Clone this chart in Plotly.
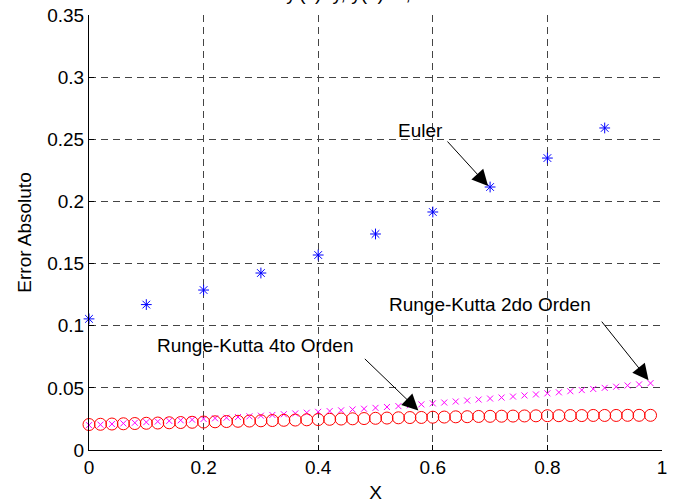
import plotly.graph_objects as go

# ---- data ----
euler_x = [0.0, 0.1, 0.2, 0.3, 0.4, 0.5, 0.6, 0.7, 0.8, 0.9]
euler_y = [0.1055, 0.1170, 0.1287, 0.1424, 0.1569, 0.1738, 0.1915, 0.2116, 0.2349, 0.2591]

rk_x = [0.00, 0.02, 0.04, 0.06, 0.08, 0.10, 0.12, 0.14, 0.16, 0.18,
        0.20, 0.22, 0.24, 0.26, 0.28, 0.30, 0.32, 0.34, 0.36, 0.38,
        0.40, 0.42, 0.44, 0.46, 0.48, 0.50, 0.52, 0.54, 0.56, 0.58,
        0.60, 0.62, 0.64, 0.66, 0.68, 0.70, 0.72, 0.74, 0.76, 0.78,
        0.80, 0.82, 0.84, 0.86, 0.88, 0.90, 0.92, 0.94, 0.96, 0.98]

rk2_y = [0.0200, 0.0204, 0.0209, 0.0214, 0.0219, 0.0224, 0.0229, 0.0234, 0.0239, 0.0244,
         0.0250, 0.0255, 0.0260, 0.0265, 0.0271, 0.0276, 0.0282, 0.0288, 0.0294, 0.0300,
         0.0307, 0.0313, 0.0319, 0.0326, 0.0332, 0.0339, 0.0346, 0.0353, 0.0360, 0.0367,
         0.0375, 0.0382, 0.0390, 0.0398, 0.0406, 0.0414, 0.0422, 0.0430, 0.0439, 0.0447,
         0.0456, 0.0464, 0.0473, 0.0482, 0.0491, 0.0500, 0.0509, 0.0519, 0.0528, 0.0538]

rk4_y = [0.0205, 0.0207, 0.0209, 0.0211, 0.0213, 0.0215, 0.0217, 0.0219, 0.0221, 0.0223,
         0.0225, 0.0227, 0.0229, 0.0231, 0.0233, 0.0235, 0.0237, 0.0239, 0.0241, 0.0243,
         0.0245, 0.0247, 0.0249, 0.0251, 0.0253, 0.0255, 0.0257, 0.0259, 0.0261, 0.0262,
         0.0264, 0.0265, 0.0267, 0.0268, 0.0270, 0.0271, 0.0272, 0.0273, 0.0274, 0.0275,
         0.0276, 0.0276, 0.0277, 0.0277, 0.0278, 0.0278, 0.0278, 0.0279, 0.0279, 0.0279]

title_text = "y'(x)=y, y(0)=1, h=0.1"
xlabel = "X"
ylabel = "Error Absoluto"
labels = {"euler": "Euler", "rk2": "Runge-Kutta 2do Orden", "rk4": "Runge-Kutta 4to Orden"}

FONT = "Liberation Sans, Arial, sans-serif"

fig = go.Figure()
fig.add_trace(go.Scatter(x=euler_x, y=euler_y, mode="markers",
                         marker=dict(symbol="asterisk-open", size=9, color="#0000FF",
                                     line=dict(color="#0000FF", width=1)),
                         cliponaxis=False))
fig.add_trace(go.Scatter(x=rk_x, y=rk2_y, mode="markers",
                         marker=dict(symbol="x-thin-open", size=6, color="#FF00FF",
                                     line=dict(color="#FF00FF", width=1)),
                         cliponaxis=False))
fig.add_trace(go.Scatter(x=rk_x, y=rk4_y, mode="markers",
                         marker=dict(symbol="circle-open", size=12, color="#FF0000",
                                     line=dict(color="#FF0000", width=1)),
                         cliponaxis=False))

grid = dict(showgrid=True, gridcolor="#444444", gridwidth=1, griddash="7px,5px",
            zeroline=False, showline=True, linecolor="black", linewidth=1,
            ticks="inside", ticklen=5, tickcolor="black", automargin=False,
            tickfont=dict(family=FONT, size=19, color="black"))

fig.update_xaxes(range=[0, 1], dtick=0.2, tick0=0,
                 title=dict(text=xlabel, font=dict(family=FONT, size=19, color="black"), standoff=8),
                 **grid)
fig.update_yaxes(range=[0, 0.35], dtick=0.05, tick0=0,
                 title=dict(text=ylabel, font=dict(family=FONT, size=19, color="black"), standoff=10),
                 **grid)

ann = []
# text labels
ann.append(dict(x=0.578, y=0.2567, xref="x", yref="y", text=labels["euler"], showarrow=False,
                font=dict(family=FONT, size=19, color="black")))
ann.append(dict(x=0.70, y=0.1167, xref="x", yref="y", text=labels["rk2"], showarrow=False,
                font=dict(family=FONT, size=19, color="black")))
ann.append(dict(x=0.29, y=0.0837, xref="x", yref="y", text=labels["rk4"], showarrow=False,
                font=dict(family=FONT, size=19, color="black")))
# arrows
arrow_style = dict(showarrow=True, arrowhead=2, arrowsize=3.2, arrowwidth=1, arrowcolor="black",
                   text="", xref="x", yref="y", standoff=0)
ann.append(dict(x=euler_x[7], y=euler_y[7], ax=-42, ay=-46, xshift=-2, yshift=1, **arrow_style))
ann.append(dict(x=rk_x[49], y=rk2_y[49], ax=-48, ay=-60, xshift=-2, yshift=3, **arrow_style))
ann.append(dict(x=rk_x[29], y=rk4_y[29], ax=-55, ay=-53, xshift=-3, yshift=7, **arrow_style))

fig.update_layout(width=676, height=503, showlegend=False,
                  margin=dict(l=89, r=14, t=15, b=53, autoexpand=False),
                  paper_bgcolor="white", plot_bgcolor="white",
                  font=dict(family=FONT, size=19, color="black"),
                  title=dict(text=title_text, x=0.555, xanchor="center", y=0.9995, yanchor="bottom",
                             yref="container", pad=dict(t=0, b=0, l=0, r=0), automargin=False,
                             font=dict(family=FONT, size=19, color="black")),
                  annotations=ann)

fig.write_html("out.html")
